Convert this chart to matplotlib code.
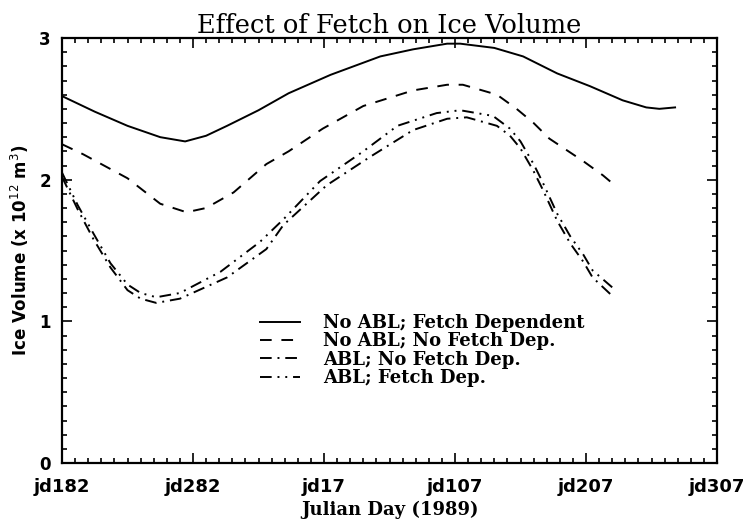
import matplotlib
matplotlib.use("Agg")
import matplotlib.pyplot as plt

# days since start of run (jd182, 1988) and ice volume values
day_fd = [0, 25, 50, 75, 94, 110, 126, 150, 173, 205, 243, 268, 294, 304, 330,
          352, 378, 403, 428, 446, 456, 468]
vol_fd = [2.59, 2.48, 2.38, 2.30, 2.27, 2.31, 2.38, 2.49, 2.61, 2.74, 2.87, 2.92,
          2.96, 2.96, 2.93, 2.87, 2.75, 2.66, 2.56, 2.51, 2.50, 2.51]

day_nf = [0, 16, 50, 75, 95, 110, 131, 156, 173, 199, 230, 268, 294, 306, 332,
          347, 360, 372, 385, 398, 413, 422]
vol_nf = [2.25, 2.18, 2.01, 1.83, 1.77, 1.80, 1.91, 2.11, 2.20, 2.36, 2.52, 2.63,
          2.67, 2.67, 2.60, 2.50, 2.40, 2.29, 2.21, 2.13, 2.03, 1.96]

day_abl_nf = [0, 12, 24, 37, 50, 60, 72, 90, 126, 156, 169, 202, 235, 268, 294,
              309, 332, 342, 350, 360, 367, 378, 388, 398, 405, 420]
vol_abl_nf = [2.02, 1.79, 1.58, 1.38, 1.22, 1.16, 1.13, 1.16, 1.31, 1.51, 1.68,
              1.96, 2.16, 2.35, 2.43, 2.44, 2.38, 2.31, 2.22, 2.06, 1.93, 1.71,
              1.55, 1.42, 1.31, 1.18]

day_abl_fd = [0, 12, 24, 37, 50, 60, 72, 90, 121, 151, 169, 197, 230, 256, 286,
              304, 329, 342, 350, 360, 367, 378, 388, 398, 405, 420]
vol_abl_fd = [2.05, 1.82, 1.62, 1.41, 1.26, 1.20, 1.17, 1.20, 1.35, 1.56, 1.72,
              1.99, 2.20, 2.38, 2.47, 2.49, 2.45, 2.36, 2.27, 2.11, 1.98, 1.76,
              1.60, 1.47, 1.36, 1.24]

tick_days = [0, 100, 200, 300, 400, 500]
tick_labels = ["jd182", "jd282", "jd17", "jd107", "jd207", "jd307"]

fig = plt.figure(figsize=(7.48, 5.23), dpi=100)
ax = fig.add_axes([62/748, 60/523, 655/748, 425/523])

lw = 1.4
ax.plot(day_fd, vol_fd, color="black", lw=lw, ls="-", label="No ABL; Fetch Dependent")
ax.plot(day_nf, vol_nf, color="black", lw=lw, ls=(0, (6, 5)), label="No ABL; No Fetch Dep.")
ax.plot(day_abl_nf, vol_abl_nf, color="black", lw=lw, ls=(0, (6, 3, 1, 3)),
        label="ABL; No Fetch Dep.")
ax.plot(day_abl_fd, vol_abl_fd, color="black", lw=lw, ls=(0, (6, 3, 1, 3, 1, 3)),
        label="ABL; Fetch Dep.")

ax.set_xlim(0, 500)
ax.set_ylim(0, 3.0)
ax.set_xticks(tick_days)
ax.set_xticklabels(tick_labels, fontfamily="DejaVu Sans", fontweight="bold", fontsize=13)
ax.set_xticks(range(0, 501, 10), minor=True)
ax.set_yticks([0, 1, 2, 3])
ax.set_yticklabels(["0", "1", "2", "3"], fontfamily="DejaVu Sans", fontweight="bold",
                   fontsize=12)
ax.set_yticks([i / 10 for i in range(31)], minor=True)
ax.tick_params(which="both", direction="in", top=True, right=True, width=1.2)
ax.tick_params(which="major", length=7, pad=8)
ax.tick_params(axis="x", which="major", pad=11)
ax.tick_params(which="minor", length=3.5)
for s in ax.spines.values():
    s.set_linewidth(1.6)

ax.set_title("Effect of Fetch on Ice Volume", fontfamily="DejaVu Serif", fontsize=18.5,
             pad=3)
ax.set_xlabel("Julian Day (1989)", fontfamily="DejaVu Serif", fontweight="bold",
              fontsize=13, labelpad=3)
ax.set_ylabel("Ice Volume (x 10$^{12}$ m$^{3}$)", fontfamily="DejaVu Sans",
              fontweight="bold", fontsize=12, labelpad=6)

leg = ax.legend(loc="upper left", bbox_to_anchor=((260 - 62) / 655, (463 - 314) / 425),
                frameon=False, borderpad=0, borderaxespad=0, handlelength=2.2,
                handletextpad=1.3, labelspacing=0.02,
                prop={"family": "DejaVu Serif", "weight": "bold", "size": 13})

fig.savefig("out.png", dpi=100)
